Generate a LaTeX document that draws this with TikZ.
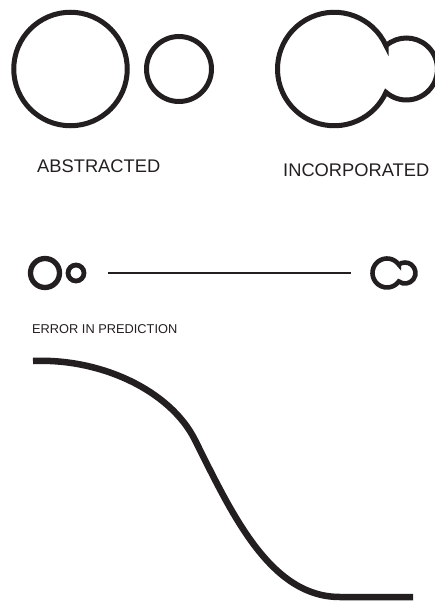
\documentclass[tikz,border=0pt]{standalone}
\usepackage{fontspec}
\setmainfont{Liberation Sans}
\definecolor{ink}{RGB}{35,31,32}
\begin{document}
\begin{tikzpicture}[x=1pt,y=-1pt,
  ring/.style={draw=ink,line width=5pt},
  smallring/.style={draw=ink,line width=4.6pt},
  label/.style={anchor=base west,inner sep=0pt,text=ink,font=\fontsize{18.3}{20}\selectfont},
  smalllabel/.style={anchor=base west,inner sep=0pt,text=ink,font=\fontsize{12.8}{14}\selectfont}]
\useasboundingbox (0,0) rectangle (435,604);
% top row: abstracted
\coordinate (abig) at (70.5,69);
\coordinate (asmall) at (179,69);
\draw[ring] (abig) circle[radius=56.75pt];
\draw[ring] (asmall) circle[radius=32.5pt];
% top row: incorporated
\coordinate (ibig) at (334.25,69);
\draw[ring] ([shift={(24.24:56.75pt)}]ibig) arc[start angle=24.24,end angle=335.76,radius=56.75pt]
  arc[start angle=-131.27,end angle=131.27,radius=31pt] -- cycle;
% labels
\node[label] (abstr) at (37,172) {ABSTRACTED};
\node[label] (incorp) at (283,176) {INCORPORATED};
% middle row
\coordinate (mbig) at (45,273);
\coordinate (msmall) at (76,273);
\draw[smallring,line width=5.3pt] (mbig) circle[radius=14.5pt];
\draw[smallring,line width=4.8pt] (msmall) circle[radius=8pt];
\coordinate (rbig) at (387,273);
\draw[smallring] ([shift={(35.7:14.5pt)}]rbig) arc[start angle=35.7,end angle=324.3,radius=14.5pt]
  arc[start angle=-126.3,end angle=126.3,radius=10.5pt] -- cycle;
\coordinate (lineL) at (108,273);
\coordinate (lineR) at (351,273);
\draw[ink,line width=1.6pt] (lineL) -- (lineR);
\node[smalllabel] (err) at (32,333) {ERROR IN PREDICTION};
% curve
\coordinate (c0) at (33,361);
\coordinate (c1) at (195,440);
\coordinate (c2) at (340,597);
\coordinate (c3) at (413,597);
\draw[ink,line width=6.5pt] (c0) .. controls (100,358) and (170,390) .. (c1)
  .. controls (232,514) and (270,597) .. (c2) -- (c3);
\end{tikzpicture}
\end{document}
